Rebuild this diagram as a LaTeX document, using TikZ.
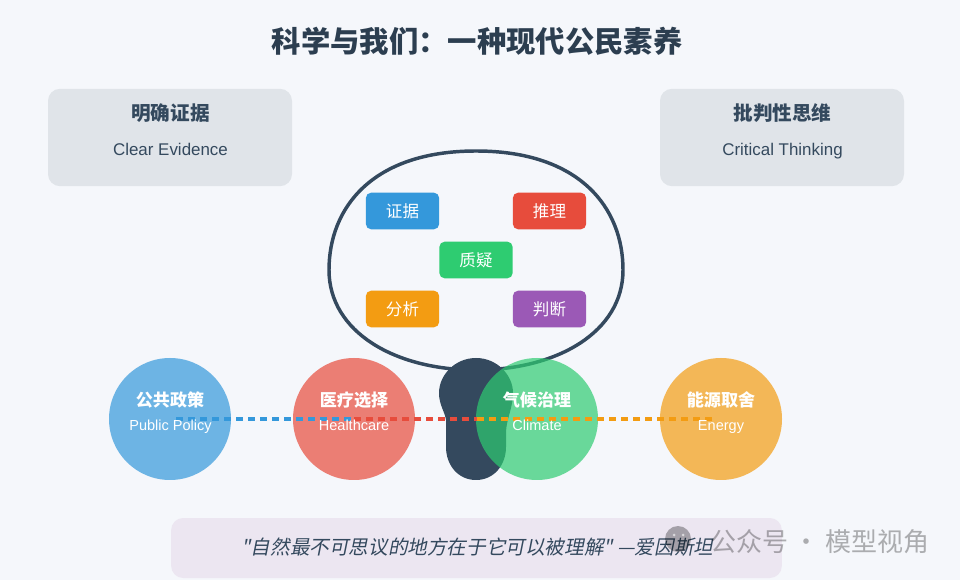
\documentclass[tikz,border=0pt]{standalone}
\usepackage{fontspec}
\setmainfont{Liberation Sans}
\newfontfamily\cjk{Noto Sans CJK SC}
\newfontfamily\cjkslant[FakeSlant=0.2]{Noto Sans CJK SC}
\usetikzlibrary{positioning, calc}
\definecolor{pagebg}{HTML}{F5F7FB}
\definecolor{ink}{HTML}{34495E}
\definecolor{inkdark}{HTML}{2C3E50}
\definecolor{panelgray}{HTML}{E0E4E9}
\definecolor{quotebg}{HTML}{ECE6F1}
\definecolor{sciblue}{HTML}{3498DB}
\definecolor{scired}{HTML}{E74C3C}
\definecolor{scigreen}{HTML}{2ECC71}
\definecolor{sciorange}{HTML}{F39C12}
\definecolor{scipurple}{HTML}{9B59B6}
\tikzstyle{panel} = [rectangle, rounded corners=9pt, minimum width=183pt, minimum height=73pt, fill=panelgray]
\tikzstyle{paneltitle} = [inner sep=0pt, text=ink, font=\cjk\bfseries\fontsize{14.7}{18}\selectfont]
\tikzstyle{panelnote} = [inner sep=0pt, anchor=base, text=ink, font=\fontsize{12.7}{15}\selectfont]
\tikzstyle{skill} = [rectangle, rounded corners=4pt, minimum width=55pt, minimum height=27.5pt, text=white, font=\cjk\fontsize{12.4}{14}\selectfont]
\tikzstyle{topic} = [circle, minimum size=91.5pt, fill opacity=0.7, inner sep=0pt]
\tikzstyle{topictitle} = [inner sep=0pt, text=white, font=\cjk\bfseries\fontsize{12.8}{15}\selectfont]
\tikzstyle{topicnote} = [inner sep=0pt, anchor=base, text=white, font=\fontsize{10.9}{13}\selectfont]
\tikzstyle{dashlink} = [line width=3pt, dash pattern=on 5.2pt off 3.8pt]
\begin{document}
\begin{tikzpicture}[x=0.75pt, y=-0.75pt]

% Background
\path [fill=pagebg, use as bounding box] (0,0) rectangle (960,580);

% Title
\node (title) [inner sep=0pt, text=inkdark, font=\cjk\bfseries\fontsize{22}{26}\selectfont] at (477,41) {科学与我们：一种现代公民素养};

% Corner panels
\node (evidence) [panel] at (170,137.5) {};
\node (thinking) [panel] at (782,137.5) {};
\node (evidencezh) [paneltitle] at (170.5,113) {明确证据};
\node (evidenceen) [panelnote] at (170.5,155.5) {Clear Evidence};
\node (thinkingzh) [paneltitle] at (782.5,113) {批判性思维};
\node (thinkingen) [panelnote] at (782.5,155.5) {Critical Thinking};

% Head
\draw [ink, line width=2.6pt] (476,151) .. controls (372,151) and (329,208) .. (329,270) .. controls (329,332) and (395,370) .. (476,370) .. controls (557,370) and (623,332) .. (623,270) .. controls (623,208) and (580,151) .. (476,151) -- cycle;

% Neck
\path [fill=ink] (476,358) .. controls (455,358) and (439,375) .. (439,393) .. controls (439,405) and (445,412) .. (446,420) -- (446,447) .. controls (446,465) and (458,480) .. (476,480) .. controls (494,480) and (506,465) .. (506,447) -- (506,433) .. controls (506,420) and (513,408) .. (513,393) .. controls (513,375) and (497,358) .. (476,358) -- cycle;

% Topics
\node (policy) [topic, fill=sciblue] at (170,419) {};
\node (health) [topic, fill=scired] at (354,419) {};
\node (climate) [topic, fill=scigreen] at (537,419) {};
\node (energy) [topic, fill=sciorange] at (721,419) {};

% Connecting dashes
\coordinate (linestart) at (176,419);
\coordinate (linemid) at (477,419);
\coordinate (lineend) at (716,419);
\draw [dashlink, sciblue] (linestart) -- (health.center);
\draw [dashlink, scired] (health.center) -- (linemid);
\draw [dashlink, sciorange] (linemid) -- (lineend);

% Skills
\node (proof) [skill, fill=sciblue] at (402.5,211) {证据};
\node (reason) [skill, fill=scired] at (549.5,211) {推理};
\node (doubt) [skill, fill=scigreen] at (476,260) {质疑};
\node (analysis) [skill, fill=sciorange] at (402.5,309) {分析};
\node (judge) [skill, fill=scipurple] at (549.5,309) {判断};

% Topic labels
\node (policyzh) [topictitle] at (170,400) {公共政策};
\node (policyen) [topicnote] at (170.5,431) {Public Policy};
\node (healthzh) [topictitle] at (354,400) {医疗选择};
\node (healthen) [topicnote] at (354,431) {Healthcare};
\node (climatezh) [topictitle] at (537,400) {气候治理};
\node (climateen) [topicnote] at (537,431) {Climate};
\node (energyzh) [topictitle] at (721,400) {能源取舍};
\node (energyen) [topicnote] at (721,431) {Energy};

% Quote
\node (quote) [rectangle, rounded corners=9pt, minimum width=458pt, minimum height=45pt, fill=quotebg] at (476.5,548) {};
\node (quotetext) [inner sep=0pt, text=ink, font=\cjkslant\fontsize{14.7}{18}\selectfont] at (477.5,547) {"自然最不可思议的地方在于它可以被理解" —爱因斯坦};

% Watermark
\fill [black, opacity=0.3] (678,539) circle [radius=13];
\fill [white, opacity=0.6] (674,535) circle [radius=1.5] (683,535) circle [radius=1.5];
\node (mark) [inner sep=0pt, text=black, text opacity=0.3, font=\cjk\fontsize{19.5}{24}\selectfont] at (820,542) {公众号 · 模型视角};

\end{tikzpicture}
\end{document}
